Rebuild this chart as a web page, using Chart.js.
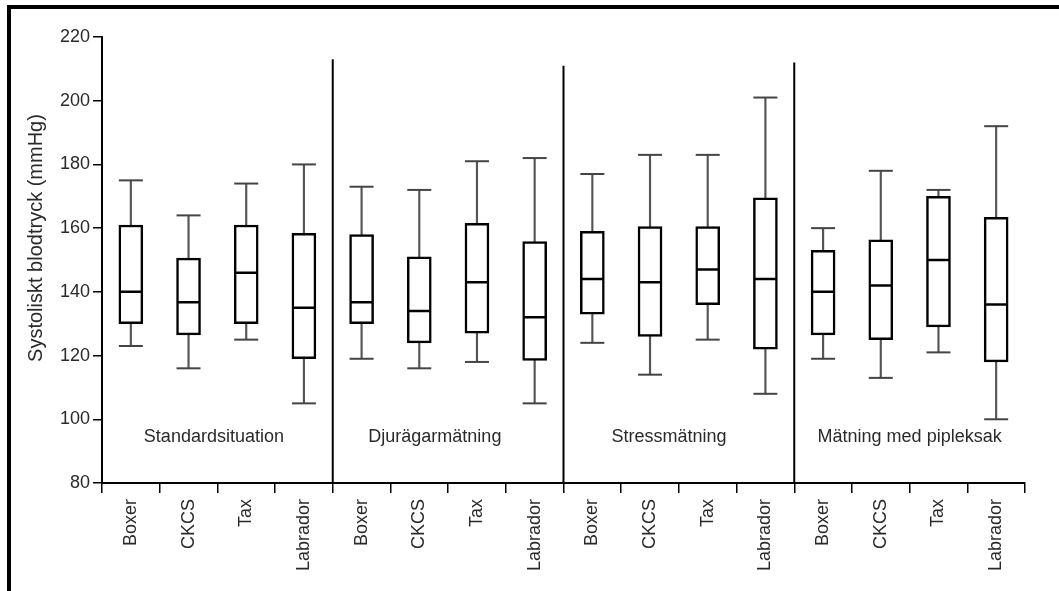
<!DOCTYPE html>
<html>
<head>
<meta charset="utf-8">
<script src="https://cdn.jsdelivr.net/npm/chart.js@4/dist/chart.umd.min.js"></script>
<style>
    html, body { margin: 0; padding: 0; background: #fff; }
    #wrap { position: relative; width: 1059px; height: 591px; overflow: hidden; }
    #frame { position: absolute; left: 7px; top: 5px; right: 0; bottom: 0; border-left: 4px solid #000; border-top: 4px solid #000; pointer-events: none; }
    #chart-bloodpressure { position: absolute; left: 0; top: 0; }
</style>
</head>
<body>
<div id="wrap">
    <canvas id="chart-bloodpressure" width="1059" height="591"></canvas>
    <div id="frame"></div>
</div>
<script>
var breeds = ['Boxer', 'CKCS', 'Tax', 'Labrador'];
var situations = ['Standardsituation', 'Djurägarmätning', 'Stressmätning', 'Mätning med pipleksak'];
var labels = [].concat(breeds, breeds, breeds, breeds);

var minValues    = [123, 116, 125, 105,   119, 116, 118, 105,   124, 114, 125, 108,   119, 113, 121, 100];
var q1Values     = [130, 126.5, 130, 119, 130, 124, 127, 118.5, 133, 126, 136, 122,   126.5, 125, 129, 118];
var medianValues = [140, 136.7, 146, 135, 136.7, 134, 143, 132, 144, 143, 147, 144,   140, 142, 150, 136];
var q3Values     = [161, 150.6, 161, 158.4, 158, 151, 161.5, 155.8, 159, 160.5, 160.5, 169.5, 153, 156.3, 170, 163.4];
var maxValues    = [175, 164, 174, 180,   173, 172, 181, 182,   177, 183, 183, 201,   160, 178, 172, 192];

var yTicks = { min: 80, max: 220, step: 20 };

var textColor = '#2a2a2a';
var fontFamily = '"Liberation Sans", Arial, Helvetica, sans-serif';

var groupDecor = {
    id: 'groupDecor',
    afterDatasetsDraw: function (chart, args, opts) {
        var ctx = chart.ctx;
        var x = chart.scales.x;
        var y = chart.scales.y;

        ctx.save();
        ctx.strokeStyle = '#000';
        ctx.lineWidth = 2;
        opts.dividers.forEach(function (d) {
            var px = x.getPixelForValue(d.at);
            ctx.beginPath();
            ctx.moveTo(px, y.getPixelForValue(d.top));
            ctx.lineTo(px, y.bottom);
            ctx.stroke();
        });

        ctx.fillStyle = textColor;
        ctx.font = '18px ' + fontFamily;
        ctx.textAlign = 'center';
        ctx.textBaseline = 'middle';
        situations.forEach(function (name, i) {
            ctx.fillText(name, x.getPixelForValue(opts.labelAt[i]), y.getPixelForValue(opts.labelY));
        });

        ctx.translate(36, 238);
        ctx.rotate(-Math.PI / 2);
        ctx.font = '20px ' + fontFamily;
        ctx.fillText('Systoliskt blodtryck (mmHg)', 0, 0);
        ctx.restore();
    }
};

function drawBloodPressureChart() {

    var whiskers = labels.map(function (l, i) { return [minValues[i], maxValues[i]]; });
    var boxes = labels.map(function (l, i) { return [q1Values[i], q3Values[i]]; });

    new Chart(
        document.getElementById('chart-bloodpressure'),
        {
            type: 'bar',
            data: {
                labels: labels,
                datasets: [
                    {
                        label: 'whisker',
                        data: whiskers,
                        backgroundColor: '#555',
                        borderWidth: 0,
                        barThickness: 1.5,
                        grouped: false,
                        order: 3
                    },
                    {
                        label: 'box',
                        data: boxes,
                        backgroundColor: '#fff',
                        borderColor: '#000',
                        borderWidth: 2.5,
                        borderSkipped: false,
                        barThickness: 24,
                        grouped: false,
                        order: 2
                    },
                    {
                        type: 'line',
                        label: 'median',
                        data: medianValues,
                        showLine: false,
                        pointStyle: 'line',
                        pointRadius: 11,
                        pointHoverRadius: 11,
                        pointBorderWidth: 2.5,
                        pointBorderColor: '#000',
                        order: 1
                    },
                    {
                        type: 'line',
                        label: 'min',
                        data: minValues,
                        showLine: false,
                        pointStyle: 'line',
                        pointRadius: 12,
                        pointHoverRadius: 12,
                        pointBorderWidth: 2,
                        pointBorderColor: '#444',
                        order: 1
                    },
                    {
                        type: 'line',
                        label: 'max',
                        data: maxValues,
                        showLine: false,
                        pointStyle: 'line',
                        pointRadius: 12,
                        pointHoverRadius: 12,
                        pointBorderWidth: 2,
                        pointBorderColor: '#444',
                        order: 1
                    }
                ]
            },
            options: {
                responsive: false,
                animation: false,
                layout: { padding: { left: 0, top: 37, right: 34, bottom: 0 } },
                plugins: {
                    legend: { display: false },
                    tooltip: { enabled: false },
                    groupDecor: {
                        dividers: [{ at: 3.5, top: 213 }, { at: 7.5, top: 211 }, { at: 11.5, top: 212 }],
                        labelAt: [1.44, 5.27, 9.33, 13.5],
                        labelY: 94.4
                    }
                },
                scales: {
                    x: {
                        offset: true,
                        grid: { offset: true, drawOnChartArea: false, drawTicks: true, tickLength: 10, color: '#000', lineWidth: 1.5 },
                        border: { color: '#000', width: 2 },
                        ticks: {
                            autoSkip: false,
                            minRotation: 90,
                            maxRotation: 90,
                            padding: 6,
                            color: textColor,
                            font: { family: fontFamily, size: 18 }
                        },
                        afterFit: function (scale) { scale.height = 108; }
                    },
                    y: {
                        min: yTicks.min,
                        max: yTicks.max,
                        grid: { drawOnChartArea: false, drawTicks: true, tickLength: 9, color: '#000', lineWidth: 1.5 },
                        border: { color: '#000', width: 2 },
                        ticks: {
                            stepSize: yTicks.step,
                            padding: 3,
                            color: textColor,
                            font: { family: fontFamily, size: 18 }
                        },
                        afterFit: function (scale) { scale.width = 102; }
                    }
                }
            },
            plugins: [groupDecor]
        }
    );
}

drawBloodPressureChart();
</script>
</body>
</html>
